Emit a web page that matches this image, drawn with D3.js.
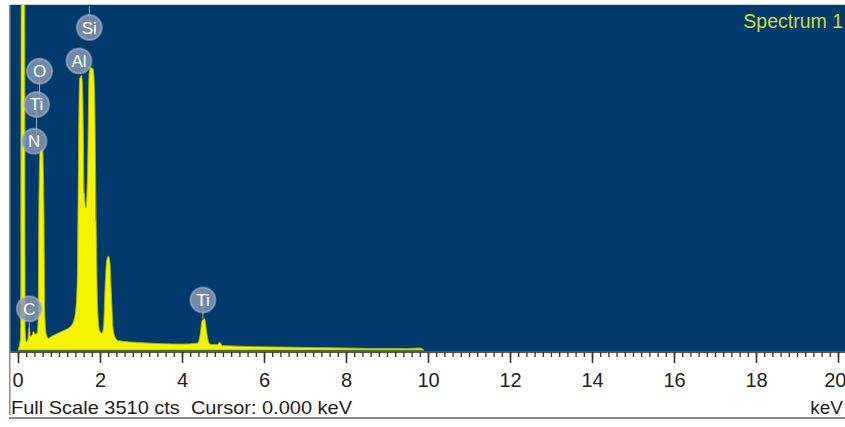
<!DOCTYPE html>
<html>
<head>
<meta charset="utf-8">
<script src="https://cdn.jsdelivr.net/npm/d3@7"></script>
<style>
  html, body { margin: 0; padding: 0; background: #fff; }
  svg { display: block; }
</style>
</head>
<body>
<svg id="chart" width="845" height="427"></svg>
<script>
// ---- data ----
const fullScale = 3510;
const energyDomain = [0, 20];
const majorTicks = [0, 2, 4, 6, 8, 10, 12, 14, 16, 18, 20];
const spectrumEnergy = [0.00, 0.04, 0.065, 0.08, 0.16, 0.175, 0.20, 0.24, 0.27, 0.30, 0.34, 0.38, 0.42, 0.46, 0.49, 0.51, 0.54, 0.60, 0.63, 0.655, 0.69, 0.74, 0.82, 0.92, 1.02, 1.12, 1.22, 1.32, 1.40, 1.445, 1.475, 1.50, 1.55, 1.58, 1.615, 1.66, 1.70, 1.735, 1.77, 1.83, 1.87, 1.905, 1.94, 1.99, 2.05, 2.09, 2.12, 2.16, 2.20, 2.24, 2.28, 2.32, 2.38, 2.45, 3.00, 3.50, 4.00, 4.38, 4.44, 4.49, 4.55, 4.61, 4.66, 4.73, 4.86, 4.92, 4.98, 6.00, 7.00, 8.00, 8.50, 9.00, 9.50, 9.80, 9.90];
const spectrumCounts = [0, 60, 150, 3900, 3900, 200, 80, 110, 230, 140, 150, 190, 160, 170, 300, 1500, 2030, 2050, 1500, 350, 160, 120, 140, 160, 180, 200, 220, 260, 380, 700, 1900, 2760, 2800, 2600, 1600, 1450, 1900, 2820, 2880, 2870, 2600, 1300, 450, 200, 170, 260, 600, 900, 960, 900, 550, 220, 120, 95, 75, 65, 60, 70, 150, 300, 320, 160, 70, 55, 55, 80, 45, 32, 26, 20, 16, 15, 14, 20, 0];
const elementLabels = ["Si", "Al", "O", "Ti", "N", "C", "Ti"];
const elementEnergy = [1.740, 1.487, 0.525, 0.452, 0.392, 0.277, 4.510];
const elementCounts = [3290, 2950, 2845, 2505, 2130, 420, 510];
const elementLineEnd = [3510, 2950, 2505, 2130, 2130, 120, 320];
const spectrumName = "Spectrum 1";
const footerText = "Full Scale 3510 cts\u00a0\u00a0Cursor: 0.000 keV";
const unitText = "keV";

// ---- drawing ----
const svg = d3.select("#chart");
const W = 845, H = 427;
const plot = { left: 10, right: 845, top: 5, bottom: 351 };
const font = "'Liberation Sans', Arial, sans-serif";

const x = d3.scaleLinear().domain(energyDomain).range([18, 838]);
const y = d3.scaleLinear().domain([0, fullScale]).range([350, 6]);

// page + frame
svg.append("rect").attr("width", W).attr("height", H).attr("fill", "#fff");
svg.append("rect").attr("x", plot.left).attr("y", plot.top - 1)
  .attr("width", plot.right - plot.left).attr("height", 1).attr("fill", "#c9cdd6");
svg.append("rect").attr("x", plot.left).attr("y", plot.top)
  .attr("width", plot.right - plot.left).attr("height", plot.bottom - plot.top)
  .attr("fill", "#033a6d");

svg.append("clipPath").attr("id", "clip").append("rect")
  .attr("x", plot.left).attr("y", plot.top)
  .attr("width", plot.right - plot.left).attr("height", plot.bottom - plot.top);

const pts = spectrumEnergy.map((e, i) => [e, spectrumCounts[i]]);
const area = d3.area()
  .x(d => x(d[0])).y0(y(0)).y1(d => y(d[1]))
  .curve(d3.curveMonotoneX);
const g = svg.append("g").attr("clip-path", "url(#clip)");
g.append("path").datum(pts).attr("d", area)
  .attr("fill", "#f4f400").attr("stroke", "#a8b414").attr("stroke-width", 0.9);

// element markers
const mk = svg.append("g").attr("clip-path", "url(#clip)");
elementLabels.forEach((lab, i) => {
  const cx = x(elementEnergy[i]);
  mk.append("line")
    .attr("x1", cx).attr("x2", cx)
    .attr("y1", y(elementCounts[i])).attr("y2", y(elementLineEnd[i]))
    .attr("stroke", "#b9c6d8").attr("stroke-width", 1).attr("opacity", 0.8);
});
elementLabels.forEach((lab, i) => {
  const cx = x(elementEnergy[i]), cy = y(elementCounts[i]);
  mk.append("circle").attr("cx", cx).attr("cy", cy).attr("r", 12.5)
    .attr("fill", "#8596b0").attr("fill-opacity", 0.85)
    .attr("stroke", "#b8c4d6").attr("stroke-width", 2).attr("stroke-opacity", 0.5);
  mk.append("text").attr("x", cx).attr("y", cy + 6)
    .attr("text-anchor", "middle").attr("font-family", font)
    .attr("font-size", 17).attr("fill", "#ffffff").text(lab);
});

// spectrum name
svg.append("text").attr("x", 843).attr("y", 28).attr("text-anchor", "end")
  .attr("font-family", font).attr("font-size", 19.5).attr("fill", "#cfdc3c")
  .text(spectrumName);

// axis panel
const minorTicks = d3.range(0, 20.001, 0.2).map(v => +v.toFixed(1));
const axisG = svg.append("g").attr("transform", `translate(0,${plot.bottom})`);
axisG.append("rect").attr("x", plot.left).attr("y", 0).attr("width", plot.right - plot.left)
  .attr("height", 2).attr("fill", "#5a5a4a");
const minorAxis = d3.axisBottom(x).tickValues(minorTicks).tickSize(5).tickFormat("");
const majorAxis = d3.axisBottom(x).tickValues(majorTicks).tickSize(11).tickFormat(d3.format("d"));
axisG.append("g").attr("transform", "translate(0,1)").call(minorAxis)
  .call(s => s.select(".domain").remove())
  .call(s => s.selectAll("line").attr("stroke", "#333").attr("stroke-width", 1.3));
axisG.append("g").attr("transform", "translate(0,1)").call(majorAxis)
  .call(s => s.select(".domain").remove())
  .call(s => s.selectAll("line").attr("stroke", "#333").attr("stroke-width", 1.6))
  .call(s => s.selectAll("text").attr("font-family", font).attr("font-size", 20)
    .attr("fill", "#222").attr("dy", "0").attr("y", 35));
axisG.selectAll(".tick text").filter(d => d === 0).attr("text-anchor", "start").attr("dx", -6);
axisG.selectAll(".tick text").filter(d => d === 20).attr("text-anchor", "end").attr("dx", 8);

// footer
svg.append("text").attr("x", 11).attr("y", 414).attr("font-family", font)
  .attr("font-size", 19).attr("fill", "#1e1e1e")
  .attr("textLength", 341).attr("lengthAdjust", "spacingAndGlyphs").text(footerText);
svg.append("text").attr("x", 843).attr("y", 414).attr("text-anchor", "end")
  .attr("font-family", font).attr("font-size", 19).attr("fill", "#1e1e1e").text(unitText);

// panel borders
svg.append("rect").attr("x", 9).attr("y", plot.top).attr("width", 1.5).attr("height", 415 - plot.top)
  .attr("fill", "#8a8a8a");
svg.append("rect").attr("x", 9).attr("y", 417).attr("width", 836).attr("height", 2)
  .attr("fill", "#8a8a8a");
</script>
</body>
</html>
